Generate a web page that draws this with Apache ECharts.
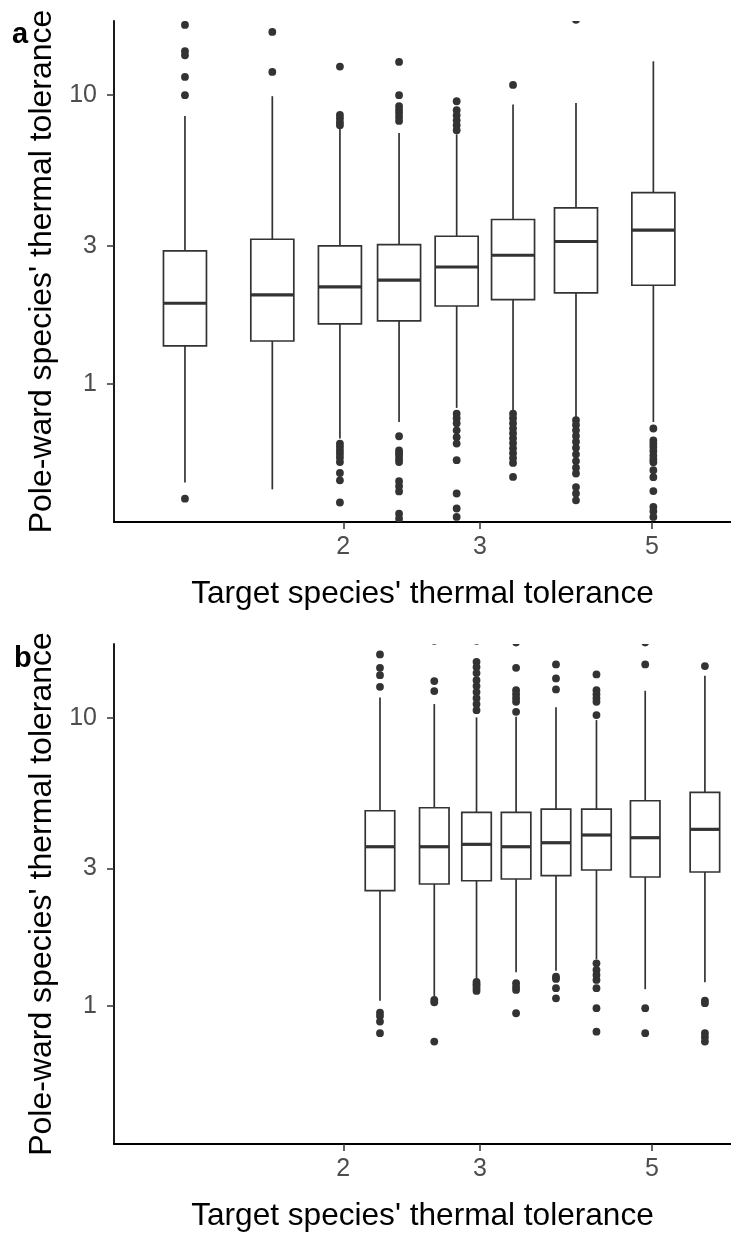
<!DOCTYPE html>
<html>
<head>
<meta charset="utf-8">
<script src="https://cdn.jsdelivr.net/npm/echarts@6/dist/echarts.min.js"></script>
<style>
html,body{margin:0;padding:0;background:#fff;}
#chart{width:731px;height:1235px;}
</style>
</head>
<body>
<div id="chart"></div>
<script>
// ---- Data ----
const xTickValues = [2, 3, 5];
const yTickValues = [1, 3, 10];
const xAxisTitle = "Target species' thermal tolerance";
const yAxisTitle = "Pole-ward species' thermal tolerance";
const panelLabels = ['a', 'b'];

// Panel a
const targetA = [1.25, 1.62, 1.98, 2.36, 2.80, 3.31, 3.99, 5.02];
const lowerA  = [0.455, 0.431, 0.646, 0.737, 0.825, 0.799, 0.758, 0.737];
const q1A     = [1.352, 1.406, 1.611, 1.650, 1.859, 1.957, 2.063, 2.193];
const medianA = [1.900, 2.030, 2.164, 2.283, 2.537, 2.786, 3.108, 3.401];
const q3A     = [2.884, 3.165, 3.000, 3.034, 3.242, 3.704, 4.062, 4.592];
const upperA  = [8.46, 9.90, 7.65, 7.39, 7.31, 9.27, 9.38, 13.08];
const outliersA = [
  [17.48, 14.17, 13.71, 11.54, 9.98, 0.400],
  [16.52, 12.01],
  [12.54, 8.53, 8.30, 8.05, 7.86, 0.621, 0.605, 0.588, 0.572, 0.556, 0.536, 0.491, 0.463, 0.388],
  [13.01, 9.98, 9.14, 8.87, 8.64, 8.38, 8.13, 0.658, 0.588, 0.576, 0.565, 0.549, 0.536, 0.460, 0.442, 0.424, 0.355, 0.341],
  [9.51, 8.85, 8.50, 8.17, 7.86, 7.55, 0.788, 0.760, 0.730, 0.690, 0.653, 0.621, 0.544, 0.417, 0.370, 0.346],
  [10.83, 0.788, 0.760, 0.730, 0.701, 0.674, 0.648, 0.623, 0.598, 0.575, 0.553, 0.532, 0.476],
  [18.21, 0.748, 0.720, 0.690, 0.660, 0.630, 0.600, 0.570, 0.540, 0.512, 0.489, 0.439, 0.417, 0.395],
  [0.700, 0.637, 0.620, 0.604, 0.585, 0.565, 0.548, 0.535, 0.502, 0.475, 0.425, 0.375, 0.362, 0.346]
];

// Panel b
const targetB = [2.23, 2.62, 2.97, 3.34, 3.76, 4.24, 4.90, 5.85];
const lowerB  = [1.044, 1.078, 1.241, 1.310, 1.327, 1.453, 1.144, 1.209];
const q1B     = [2.513, 2.651, 2.721, 2.759, 2.833, 2.965, 2.803, 2.917];
const medianB = [3.570, 3.570, 3.639, 3.570, 3.686, 3.920, 3.837, 4.102];
const q3B     = [4.758, 4.874, 4.699, 4.699, 4.824, 4.824, 5.154, 5.511];
const upperB  = [11.77, 11.16, 10.03, 10.08, 10.87, 9.82, 12.41, 13.98];
const outliersB = [
  [16.59, 14.91, 14.06, 12.81, 0.949, 0.924, 0.883, 0.805],
  [18.5, 13.41, 12.38, 1.050, 1.030, 0.753],
  [18.5, 15.64, 14.99, 14.29, 13.51, 12.88, 12.28, 11.70, 11.16, 10.63, 1.212, 1.190, 1.174, 1.150, 1.128],
  [18.25, 14.91, 12.47, 12.08, 11.70, 11.36, 10.49, 1.200, 1.165, 1.137, 0.944],
  [15.32, 13.69, 12.54, 1.264, 1.242, 1.153, 1.064],
  [14.14, 12.47, 12.08, 11.70, 11.36, 10.22, 1.407, 1.334, 1.282, 1.232, 1.153, 0.983, 0.815],
  [18.25, 15.32, 0.983, 0.805],
  [15.11, 1.045, 1.023, 0.805, 0.780, 0.753]
];

// Axis ranges
const xMin = 1.0126, xMax = 6.321;
const yMin = 0.3322, yMax = 18.03;

// ---- Build chart ----
const FONT = '"Liberation Sans", Arial, sans-serif';
const INK = '#333333';

function boxData(xs, lo, q1, md, q3, hi) {
  return xs.map((x, i) => [x, lo[i], q1[i], md[i], q3[i], hi[i]]);
}
function outlierData(xs, outs) {
  const d = [];
  outs.forEach((arr, i) => arr.forEach(v => d.push([xs[i], v])));
  return d;
}
function boxRenderer(boxW) {
  return function (params, api) {
    const x = api.value(0);
    const pLo = api.coord([x, api.value(1)]);
    const pQ1 = api.coord([x, api.value(2)]);
    const pMd = api.coord([x, api.value(3)]);
    const pQ3 = api.coord([x, api.value(4)]);
    const pHi = api.coord([x, api.value(5)]);
    const cx = pLo[0], hw = boxW / 2;
    const lw = 1.7;
    return {
      type: 'group',
      children: [
        { type: 'line', shape: { x1: cx, y1: pHi[1], x2: cx, y2: pQ3[1] }, style: { stroke: INK, lineWidth: lw } },
        { type: 'line', shape: { x1: cx, y1: pQ1[1], x2: cx, y2: pLo[1] }, style: { stroke: INK, lineWidth: lw } },
        { type: 'rect', shape: { x: cx - hw, y: pQ3[1], width: boxW, height: pQ1[1] - pQ3[1] }, style: { fill: '#ffffff', stroke: INK, lineWidth: lw } },
        { type: 'line', shape: { x1: cx - hw, y1: pMd[1], x2: cx + hw, y2: pMd[1] }, style: { stroke: INK, lineWidth: 3.2 } }
      ]
    };
  };
}
function dotRenderer(params, api) {
  const p = api.coord([api.value(0), api.value(1)]);
  return { type: 'circle', shape: { cx: p[0], cy: p[1], r: 3.9 }, style: { fill: INK } };
}
const fmt = v => String(Math.round(v * 1000) / 1000);

function makeX(gi) {
  return {
    type: 'log', logBase: 10, gridIndex: gi, min: xMin, max: xMax,
    name: xAxisTitle, nameLocation: 'middle', nameGap: 56,
    nameTextStyle: { fontSize: 31.6, color: '#000', fontFamily: FONT },
    axisLine: { lineStyle: { color: '#000', width: 1.8 } },
    axisTick: { show: true, length: 7, customValues: xTickValues, lineStyle: { color: INK, width: 1.5 } },
    minorTick: { show: false },
    axisLabel: { customValues: xTickValues, formatter: fmt, fontSize: 25, color: '#4d4d4d', margin: 13, fontFamily: FONT },
    splitLine: { show: false }
  };
}
function makeY(gi) {
  return {
    type: 'log', logBase: 10, gridIndex: gi, min: yMin, max: yMax,
    name: yAxisTitle, nameLocation: 'middle', nameGap: 54,
    nameTextStyle: { fontSize: 32, color: '#000', fontFamily: FONT },
    axisLine: { lineStyle: { color: '#000', width: 1.8 } },
    axisTick: { show: true, length: 7, customValues: yTickValues, lineStyle: { color: INK, width: 1.5 } },
    minorTick: { show: false },
    axisLabel: { customValues: yTickValues, formatter: fmt, fontSize: 25, color: '#4d4d4d', margin: 17, fontFamily: FONT },
    splitLine: { show: false }
  };
}

const chart = echarts.init(document.getElementById('chart'), null, { renderer: 'canvas' });
chart.setOption({
  animation: false,
  backgroundColor: '#ffffff',
  grid: [
    { left: 114, right: 0, top: 21, height: 501 },
    { left: 114, right: 0, top: 644, height: 500 }
  ],
  xAxis: [makeX(0), makeX(1)],
  yAxis: [makeY(0), makeY(1)],
  graphic: [
    { type: 'text', left: 12, top: 20, style: { text: panelLabels[0], font: 'bold 29px "Liberation Sans", Arial, sans-serif', fill: '#000' } },
    { type: 'text', left: 14, top: 644, style: { text: panelLabels[1], font: 'bold 29px "Liberation Sans", Arial, sans-serif', fill: '#000' } }
  ],
  series: [
    { type: 'custom', xAxisIndex: 0, yAxisIndex: 0, clip: true, renderItem: boxRenderer(43),
      encode: { x: 0, y: [1, 2, 3, 4, 5] }, data: boxData(targetA, lowerA, q1A, medianA, q3A, upperA) },
    { type: 'custom', xAxisIndex: 0, yAxisIndex: 0, clip: true, renderItem: dotRenderer,
      encode: { x: 0, y: 1 }, data: outlierData(targetA, outliersA) },
    { type: 'custom', xAxisIndex: 1, yAxisIndex: 1, clip: true, renderItem: boxRenderer(29.5),
      encode: { x: 0, y: [1, 2, 3, 4, 5] }, data: boxData(targetB, lowerB, q1B, medianB, q3B, upperB) },
    { type: 'custom', xAxisIndex: 1, yAxisIndex: 1, clip: true, renderItem: dotRenderer,
      encode: { x: 0, y: 1 }, data: outlierData(targetB, outliersB) }
  ]
});
</script>
</body>
</html>
